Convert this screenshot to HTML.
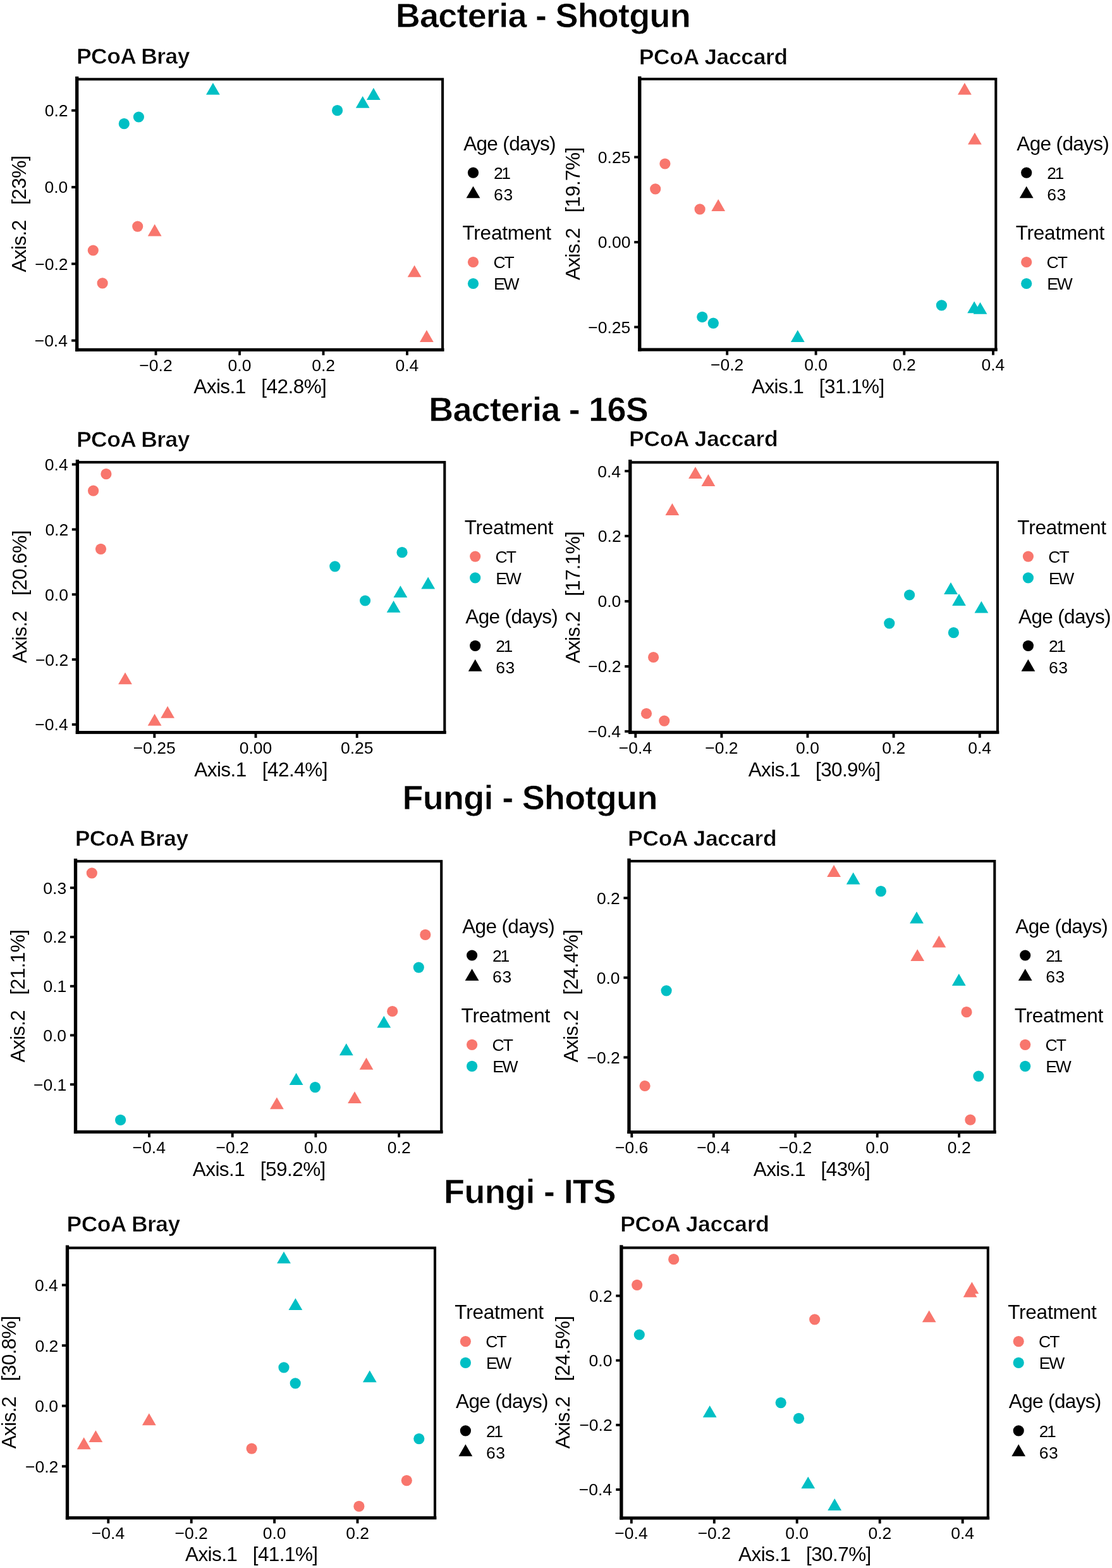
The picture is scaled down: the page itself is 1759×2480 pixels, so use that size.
<!DOCTYPE html>
<html><head><meta charset="utf-8"><title>PCoA</title>
<style>
html,body{margin:0;padding:0;background:#fff;}
body{width:1759px;height:2480px;overflow:hidden;}
svg{display:block;}
text{font-family:'Liberation Sans', sans-serif;fill:#000;white-space:pre;}
</style></head><body>
<svg width="1759" height="2480" viewBox="0 0 1759 2480" xml:space="preserve">
<rect x="0" y="0" width="1759" height="2480" fill="#fff"/>
<line x1="246.5" y1="553.2" x2="246.5" y2="561.8" stroke="#000" stroke-width="3.9"/>
<text x="220.33" y="586.60" font-size="26.5">−0.2</text>
<line x1="379.0" y1="553.2" x2="379.0" y2="561.8" stroke="#000" stroke-width="3.9"/>
<text x="360.58" y="586.60" font-size="26.5">0.0</text>
<line x1="511.5" y1="553.2" x2="511.5" y2="561.8" stroke="#000" stroke-width="3.9"/>
<text x="493.21" y="586.60" font-size="26.5">0.2</text>
<line x1="644.0" y1="553.2" x2="644.0" y2="561.8" stroke="#000" stroke-width="3.9"/>
<text x="625.45" y="586.60" font-size="26.5">0.4</text>
<line x1="113.1" y1="174.7" x2="121.7" y2="174.7" stroke="#000" stroke-width="3.9"/>
<text x="70.69" y="184.10" font-size="26.5">0.2</text>
<line x1="113.1" y1="296.0" x2="121.7" y2="296.0" stroke="#000" stroke-width="3.9"/>
<text x="70.42" y="305.40" font-size="26.5">0.0</text>
<line x1="113.1" y1="417.3" x2="121.7" y2="417.3" stroke="#000" stroke-width="3.9"/>
<text x="55.19" y="426.70" font-size="26.5">−0.2</text>
<line x1="113.1" y1="538.6" x2="121.7" y2="538.6" stroke="#000" stroke-width="3.9"/>
<text x="54.66" y="548.00" font-size="26.5">−0.4</text>
<rect x="121.7" y="125.3" width="578.4" height="427.9" fill="none" stroke="#000" stroke-width="4.1"/>
<line x1="121.7" y1="121.1" x2="121.7" y2="555.8" stroke="#000" stroke-width="5.3"/>
<line x1="119.1" y1="553.2" x2="702.5" y2="553.2" stroke="#000" stroke-width="4.9"/>
<polygon points="336.9,130.9 347.8,149.8 326.0,149.8" fill="#00BFC4"/>
<circle cx="196.3" cy="195.7" r="8.6" fill="#00BFC4"/>
<circle cx="219.4" cy="185.0" r="8.6" fill="#00BFC4"/>
<circle cx="533.6" cy="174.7" r="8.6" fill="#00BFC4"/>
<polygon points="573.7,151.9 584.6,170.8 562.8,170.8" fill="#00BFC4"/>
<polygon points="590.9,139.0 601.8,157.9 580.0,157.9" fill="#00BFC4"/>
<circle cx="217.7" cy="358.1" r="8.6" fill="#F8766D"/>
<polygon points="244.7,354.6 255.6,373.5 233.8,373.5" fill="#F8766D"/>
<circle cx="147.3" cy="396.0" r="8.6" fill="#F8766D"/>
<circle cx="162.1" cy="447.9" r="8.6" fill="#F8766D"/>
<polygon points="655.6,419.4 666.5,438.3 644.7,438.3" fill="#F8766D"/>
<polygon points="674.9,522.0 685.8,540.9 664.0,540.9" fill="#F8766D"/>
<text x="120.99" y="101.30" font-size="35.5" font-weight="bold" stroke="#fff" stroke-width="0.6" textLength="179.54" lengthAdjust="spacing">PCoA Bray</text>
<text x="306.24" y="622.20" font-size="31.5" textLength="210.65" lengthAdjust="spacing">Axis.1   [42.8%]</text>
<text x="0" y="0" font-size="31.5" textLength="184.88" lengthAdjust="spacing" transform="translate(41.00,430.56) rotate(-90)">Axis.2   [23%]</text>
<text x="733.14" y="237.70" font-size="31.5" textLength="146.47" lengthAdjust="spacing">Age (days)</text>
<circle cx="748.5" cy="273.2" r="8.6" fill="#000"/>
<polygon points="748.5,294.4 759.4,313.3 737.6,313.3" fill="#000"/>
<text x="780.98" y="282.80" font-size="26.5" textLength="27.11" lengthAdjust="spacing">21</text>
<text x="780.98" y="316.60" font-size="26.5" textLength="30.18" lengthAdjust="spacing">63</text>
<text x="731.47" y="378.90" font-size="31.5" textLength="140.65" lengthAdjust="spacing">Treatment</text>
<circle cx="748.5" cy="414.5" r="8.6" fill="#F8766D"/>
<circle cx="748.5" cy="448.5" r="8.6" fill="#00BFC4"/>
<text x="780.38" y="424.10" font-size="26.5" textLength="33.34" lengthAdjust="spacing">CT</text>
<text x="781.08" y="458.10" font-size="26.5" textLength="40.38" lengthAdjust="spacing">EW</text>
<line x1="1150.2" y1="553.0" x2="1150.2" y2="561.6" stroke="#000" stroke-width="3.9"/>
<text x="1124.03" y="586.40" font-size="26.5">−0.2</text>
<line x1="1290.6" y1="553.0" x2="1290.6" y2="561.6" stroke="#000" stroke-width="3.9"/>
<text x="1272.18" y="586.40" font-size="26.5">0.0</text>
<line x1="1430.3" y1="553.0" x2="1430.3" y2="561.6" stroke="#000" stroke-width="3.9"/>
<text x="1412.02" y="586.40" font-size="26.5">0.2</text>
<line x1="1571.0" y1="553.0" x2="1571.0" y2="561.6" stroke="#000" stroke-width="3.9"/>
<text x="1552.45" y="586.40" font-size="26.5">0.4</text>
<line x1="1003.2" y1="248.5" x2="1011.8" y2="248.5" stroke="#000" stroke-width="3.9"/>
<text x="945.82" y="257.90" font-size="26.5">0.25</text>
<line x1="1003.2" y1="383.0" x2="1011.8" y2="383.0" stroke="#000" stroke-width="3.9"/>
<text x="945.82" y="392.40" font-size="26.5">0.00</text>
<line x1="1003.2" y1="517.3" x2="1011.8" y2="517.3" stroke="#000" stroke-width="3.9"/>
<text x="930.31" y="526.70" font-size="26.5">−0.25</text>
<rect x="1011.8" y="125.0" width="563.5" height="428.0" fill="none" stroke="#000" stroke-width="4.1"/>
<line x1="1011.8" y1="120.8" x2="1011.8" y2="555.6" stroke="#000" stroke-width="5.3"/>
<line x1="1009.2" y1="553.0" x2="1577.7" y2="553.0" stroke="#000" stroke-width="4.9"/>
<circle cx="1051.9" cy="259.0" r="8.6" fill="#F8766D"/>
<circle cx="1036.7" cy="298.9" r="8.6" fill="#F8766D"/>
<circle cx="1107.1" cy="330.9" r="8.6" fill="#F8766D"/>
<polygon points="1136.2,315.0 1147.1,333.9 1125.3,333.9" fill="#F8766D"/>
<polygon points="1525.9,130.9 1536.8,149.8 1515.0,149.8" fill="#F8766D"/>
<polygon points="1541.9,209.7 1552.8,228.6 1531.0,228.6" fill="#F8766D"/>
<circle cx="1110.8" cy="501.3" r="8.6" fill="#00BFC4"/>
<circle cx="1128.3" cy="511.2" r="8.6" fill="#00BFC4"/>
<circle cx="1489.4" cy="482.9" r="8.6" fill="#00BFC4"/>
<polygon points="1261.8,522.0 1272.7,540.9 1250.9,540.9" fill="#00BFC4"/>
<polygon points="1541.1,476.4 1552.0,495.3 1530.2,495.3" fill="#00BFC4"/>
<polygon points="1550.5,477.9 1561.4,496.8 1539.6,496.8" fill="#00BFC4"/>
<text x="1010.69" y="101.60" font-size="35.5" font-weight="bold" stroke="#fff" stroke-width="0.6" textLength="235.57" lengthAdjust="spacing">PCoA Jaccard</text>
<text x="1188.94" y="622.00" font-size="31.5" textLength="210.35" lengthAdjust="spacing">Axis.1   [31.1%]</text>
<text x="0" y="0" font-size="31.5" textLength="210.33" lengthAdjust="spacing" transform="translate(916.50,443.10) rotate(-90)">Axis.2   [19.7%]</text>
<text x="1608.34" y="237.70" font-size="31.5" textLength="146.47" lengthAdjust="spacing">Age (days)</text>
<circle cx="1623.7" cy="273.2" r="8.6" fill="#000"/>
<polygon points="1623.7,294.4 1634.6,313.3 1612.8,313.3" fill="#000"/>
<text x="1656.17" y="282.80" font-size="26.5" textLength="27.11" lengthAdjust="spacing">21</text>
<text x="1656.17" y="316.60" font-size="26.5" textLength="30.18" lengthAdjust="spacing">63</text>
<text x="1606.67" y="378.90" font-size="31.5" textLength="140.65" lengthAdjust="spacing">Treatment</text>
<circle cx="1623.7" cy="414.5" r="8.6" fill="#F8766D"/>
<circle cx="1623.7" cy="448.5" r="8.6" fill="#00BFC4"/>
<text x="1655.58" y="424.10" font-size="26.5" textLength="33.34" lengthAdjust="spacing">CT</text>
<text x="1656.28" y="458.10" font-size="26.5" textLength="40.38" lengthAdjust="spacing">EW</text>
<line x1="244.3" y1="1158.4" x2="244.3" y2="1167.0" stroke="#000" stroke-width="3.9"/>
<text x="210.65" y="1191.80" font-size="26.5">−0.25</text>
<line x1="404.5" y1="1158.4" x2="404.5" y2="1167.0" stroke="#000" stroke-width="3.9"/>
<text x="378.73" y="1191.80" font-size="26.5">0.00</text>
<line x1="564.7" y1="1158.4" x2="564.7" y2="1167.0" stroke="#000" stroke-width="3.9"/>
<text x="538.93" y="1191.80" font-size="26.5">0.25</text>
<line x1="113.8" y1="734.5" x2="122.4" y2="734.5" stroke="#000" stroke-width="3.9"/>
<text x="70.86" y="743.90" font-size="26.5">0.4</text>
<line x1="113.8" y1="837.4" x2="122.4" y2="837.4" stroke="#000" stroke-width="3.9"/>
<text x="71.39" y="846.80" font-size="26.5">0.2</text>
<line x1="113.8" y1="940.2" x2="122.4" y2="940.2" stroke="#000" stroke-width="3.9"/>
<text x="71.12" y="949.60" font-size="26.5">0.0</text>
<line x1="113.8" y1="1043.1" x2="122.4" y2="1043.1" stroke="#000" stroke-width="3.9"/>
<text x="55.89" y="1052.50" font-size="26.5">−0.2</text>
<line x1="113.8" y1="1145.9" x2="122.4" y2="1145.9" stroke="#000" stroke-width="3.9"/>
<text x="55.36" y="1155.30" font-size="26.5">−0.4</text>
<rect x="122.4" y="731.1" width="580.9" height="427.3" fill="none" stroke="#000" stroke-width="4.1"/>
<line x1="122.4" y1="726.9" x2="122.4" y2="1161.0" stroke="#000" stroke-width="5.3"/>
<line x1="119.8" y1="1158.4" x2="705.7" y2="1158.4" stroke="#000" stroke-width="4.9"/>
<circle cx="167.9" cy="749.7" r="8.6" fill="#F8766D"/>
<circle cx="147.6" cy="776.2" r="8.6" fill="#F8766D"/>
<circle cx="159.5" cy="868.3" r="8.6" fill="#F8766D"/>
<polygon points="198.0,1063.4 208.9,1082.3 187.1,1082.3" fill="#F8766D"/>
<polygon points="265.1,1116.8 276.0,1135.7 254.2,1135.7" fill="#F8766D"/>
<polygon points="244.6,1128.9 255.5,1147.8 233.7,1147.8" fill="#F8766D"/>
<circle cx="529.8" cy="895.8" r="8.6" fill="#00BFC4"/>
<circle cx="636.0" cy="873.7" r="8.6" fill="#00BFC4"/>
<circle cx="577.6" cy="950.0" r="8.6" fill="#00BFC4"/>
<polygon points="677.2,912.6 688.1,931.5 666.3,931.5" fill="#00BFC4"/>
<polygon points="633.4,926.2 644.3,945.1 622.5,945.1" fill="#00BFC4"/>
<polygon points="622.6,949.9 633.5,968.8 611.7,968.8" fill="#00BFC4"/>
<text x="120.99" y="707.00" font-size="35.5" font-weight="bold" stroke="#fff" stroke-width="0.6" textLength="179.54" lengthAdjust="spacing">PCoA Bray</text>
<text x="307.14" y="1227.80" font-size="31.5" textLength="211.35" lengthAdjust="spacing">Axis.1   [42.4%]</text>
<text x="0" y="0" font-size="31.5" textLength="210.33" lengthAdjust="spacing" transform="translate(41.80,1048.85) rotate(-90)">Axis.2   [20.6%]</text>
<text x="734.67" y="844.60" font-size="31.5" textLength="140.65" lengthAdjust="spacing">Treatment</text>
<circle cx="751.7" cy="880.1" r="8.6" fill="#F8766D"/>
<circle cx="751.7" cy="913.9" r="8.6" fill="#00BFC4"/>
<text x="783.57" y="889.70" font-size="26.5" textLength="33.34" lengthAdjust="spacing">CT</text>
<text x="784.28" y="923.50" font-size="26.5" textLength="40.38" lengthAdjust="spacing">EW</text>
<text x="736.34" y="985.80" font-size="31.5" textLength="146.47" lengthAdjust="spacing">Age (days)</text>
<circle cx="751.7" cy="1021.4" r="8.6" fill="#000"/>
<polygon points="751.7,1042.8 762.6,1061.7 740.8,1061.7" fill="#000"/>
<text x="784.17" y="1031.00" font-size="26.5" textLength="27.11" lengthAdjust="spacing">21</text>
<text x="784.17" y="1065.00" font-size="26.5" textLength="30.18" lengthAdjust="spacing">63</text>
<line x1="1005.3" y1="1158.2" x2="1005.3" y2="1166.8" stroke="#000" stroke-width="3.9"/>
<text x="978.87" y="1191.60" font-size="26.5">−0.4</text>
<line x1="1141.4" y1="1158.2" x2="1141.4" y2="1166.8" stroke="#000" stroke-width="3.9"/>
<text x="1115.23" y="1191.60" font-size="26.5">−0.2</text>
<line x1="1277.5" y1="1158.2" x2="1277.5" y2="1166.8" stroke="#000" stroke-width="3.9"/>
<text x="1259.08" y="1191.60" font-size="26.5">0.0</text>
<line x1="1413.6" y1="1158.2" x2="1413.6" y2="1166.8" stroke="#000" stroke-width="3.9"/>
<text x="1395.32" y="1191.60" font-size="26.5">0.2</text>
<line x1="1549.8" y1="1158.2" x2="1549.8" y2="1166.8" stroke="#000" stroke-width="3.9"/>
<text x="1531.25" y="1191.60" font-size="26.5">0.4</text>
<line x1="988.2" y1="745.1" x2="996.8" y2="745.1" stroke="#000" stroke-width="3.9"/>
<text x="945.26" y="754.50" font-size="26.5">0.4</text>
<line x1="988.2" y1="847.8" x2="996.8" y2="847.8" stroke="#000" stroke-width="3.9"/>
<text x="945.79" y="857.20" font-size="26.5">0.2</text>
<line x1="988.2" y1="951.0" x2="996.8" y2="951.0" stroke="#000" stroke-width="3.9"/>
<text x="945.52" y="960.40" font-size="26.5">0.0</text>
<line x1="988.2" y1="1054.0" x2="996.8" y2="1054.0" stroke="#000" stroke-width="3.9"/>
<text x="930.29" y="1063.40" font-size="26.5">−0.2</text>
<line x1="988.2" y1="1156.8" x2="996.8" y2="1156.8" stroke="#000" stroke-width="3.9"/>
<text x="929.76" y="1166.20" font-size="26.5">−0.4</text>
<rect x="996.8" y="731.3" width="581.2" height="426.9" fill="none" stroke="#000" stroke-width="4.1"/>
<line x1="996.8" y1="727.1" x2="996.8" y2="1160.8" stroke="#000" stroke-width="5.3"/>
<line x1="994.2" y1="1158.2" x2="1580.4" y2="1158.2" stroke="#000" stroke-width="4.9"/>
<polygon points="1100.0,738.2 1110.9,757.1 1089.1,757.1" fill="#F8766D"/>
<polygon points="1120.4,750.0 1131.3,768.9 1109.5,768.9" fill="#F8766D"/>
<polygon points="1063.4,796.0 1074.3,814.9 1052.5,814.9" fill="#F8766D"/>
<circle cx="1033.6" cy="1039.5" r="8.6" fill="#F8766D"/>
<circle cx="1022.5" cy="1128.5" r="8.6" fill="#F8766D"/>
<circle cx="1050.8" cy="1140.1" r="8.6" fill="#F8766D"/>
<circle cx="1438.6" cy="941.0" r="8.6" fill="#00BFC4"/>
<circle cx="1406.8" cy="985.8" r="8.6" fill="#00BFC4"/>
<circle cx="1508.4" cy="1000.7" r="8.6" fill="#00BFC4"/>
<polygon points="1504.0,921.0 1514.9,939.9 1493.1,939.9" fill="#00BFC4"/>
<polygon points="1517.0,939.0 1527.9,957.9 1506.1,957.9" fill="#00BFC4"/>
<polygon points="1552.4,950.7 1563.3,969.6 1541.5,969.6" fill="#00BFC4"/>
<text x="995.09" y="706.20" font-size="35.5" font-weight="bold" stroke="#fff" stroke-width="0.6" textLength="235.57" lengthAdjust="spacing">PCoA Jaccard</text>
<text x="1183.74" y="1227.50" font-size="31.5" textLength="209.35" lengthAdjust="spacing">Axis.1   [30.9%]</text>
<text x="0" y="0" font-size="31.5" textLength="208.85" lengthAdjust="spacing" transform="translate(916.70,1049.06) rotate(-90)">Axis.2   [17.1%]</text>
<text x="1609.37" y="844.60" font-size="31.5" textLength="140.65" lengthAdjust="spacing">Treatment</text>
<circle cx="1626.4" cy="880.1" r="8.6" fill="#F8766D"/>
<circle cx="1626.4" cy="913.9" r="8.6" fill="#00BFC4"/>
<text x="1658.28" y="889.70" font-size="26.5" textLength="33.34" lengthAdjust="spacing">CT</text>
<text x="1658.98" y="923.50" font-size="26.5" textLength="40.38" lengthAdjust="spacing">EW</text>
<text x="1611.04" y="985.80" font-size="31.5" textLength="146.47" lengthAdjust="spacing">Age (days)</text>
<circle cx="1626.4" cy="1021.4" r="8.6" fill="#000"/>
<polygon points="1626.4,1042.8 1637.3,1061.7 1615.5,1061.7" fill="#000"/>
<text x="1658.88" y="1031.00" font-size="26.5" textLength="27.11" lengthAdjust="spacing">21</text>
<text x="1658.88" y="1065.00" font-size="26.5" textLength="30.18" lengthAdjust="spacing">63</text>
<line x1="236.0" y1="1790.2" x2="236.0" y2="1798.8" stroke="#000" stroke-width="3.9"/>
<text x="209.57" y="1823.60" font-size="26.5">−0.4</text>
<line x1="367.7" y1="1790.2" x2="367.7" y2="1798.8" stroke="#000" stroke-width="3.9"/>
<text x="341.53" y="1823.60" font-size="26.5">−0.2</text>
<line x1="499.4" y1="1790.2" x2="499.4" y2="1798.8" stroke="#000" stroke-width="3.9"/>
<text x="480.98" y="1823.60" font-size="26.5">0.0</text>
<line x1="631.1" y1="1790.2" x2="631.1" y2="1798.8" stroke="#000" stroke-width="3.9"/>
<text x="612.82" y="1823.60" font-size="26.5">0.2</text>
<line x1="110.9" y1="1404.2" x2="119.5" y2="1404.2" stroke="#000" stroke-width="3.9"/>
<text x="68.36" y="1413.60" font-size="26.5">0.3</text>
<line x1="110.9" y1="1482.0" x2="119.5" y2="1482.0" stroke="#000" stroke-width="3.9"/>
<text x="68.49" y="1491.40" font-size="26.5">0.2</text>
<line x1="110.9" y1="1559.8" x2="119.5" y2="1559.8" stroke="#000" stroke-width="3.9"/>
<text x="68.49" y="1569.20" font-size="26.5">0.1</text>
<line x1="110.9" y1="1637.4" x2="119.5" y2="1637.4" stroke="#000" stroke-width="3.9"/>
<text x="68.22" y="1646.80" font-size="26.5">0.0</text>
<line x1="110.9" y1="1715.2" x2="119.5" y2="1715.2" stroke="#000" stroke-width="3.9"/>
<text x="52.99" y="1724.60" font-size="26.5">−0.1</text>
<rect x="119.5" y="1362.2" width="578.7" height="428.0" fill="none" stroke="#000" stroke-width="4.1"/>
<line x1="119.5" y1="1358.0" x2="119.5" y2="1792.8" stroke="#000" stroke-width="5.3"/>
<line x1="116.9" y1="1790.2" x2="700.6" y2="1790.2" stroke="#000" stroke-width="4.9"/>
<circle cx="145.3" cy="1380.9" r="8.6" fill="#F8766D"/>
<circle cx="190.6" cy="1771.4" r="8.6" fill="#00BFC4"/>
<circle cx="672.8" cy="1478.4" r="8.6" fill="#F8766D"/>
<circle cx="662.3" cy="1530.1" r="8.6" fill="#00BFC4"/>
<circle cx="620.7" cy="1599.5" r="8.6" fill="#F8766D"/>
<polygon points="607.3,1606.7 618.2,1625.6 596.4,1625.6" fill="#00BFC4"/>
<polygon points="547.8,1650.3 558.7,1669.2 536.9,1669.2" fill="#00BFC4"/>
<polygon points="579.5,1672.8 590.4,1691.7 568.6,1691.7" fill="#F8766D"/>
<polygon points="468.6,1697.1 479.5,1716.0 457.7,1716.0" fill="#00BFC4"/>
<circle cx="498.5" cy="1719.6" r="8.6" fill="#00BFC4"/>
<polygon points="561.0,1726.2 571.9,1745.1 550.1,1745.1" fill="#F8766D"/>
<polygon points="437.9,1735.4 448.8,1754.3 427.0,1754.3" fill="#F8766D"/>
<text x="118.69" y="1338.30" font-size="35.5" font-weight="bold" stroke="#fff" stroke-width="0.6" textLength="179.54" lengthAdjust="spacing">PCoA Bray</text>
<text x="304.74" y="1859.80" font-size="31.5" textLength="210.65" lengthAdjust="spacing">Axis.1   [59.2%]</text>
<text x="0" y="0" font-size="31.5" textLength="210.33" lengthAdjust="spacing" transform="translate(38.80,1680.30) rotate(-90)">Axis.2   [21.1%]</text>
<text x="731.24" y="1475.50" font-size="31.5" textLength="146.47" lengthAdjust="spacing">Age (days)</text>
<circle cx="746.6" cy="1511.0" r="8.6" fill="#000"/>
<polygon points="746.6,1532.2 757.5,1551.1 735.7,1551.1" fill="#000"/>
<text x="779.08" y="1520.60" font-size="26.5" textLength="27.11" lengthAdjust="spacing">21</text>
<text x="779.08" y="1554.40" font-size="26.5" textLength="30.18" lengthAdjust="spacing">63</text>
<text x="729.57" y="1616.70" font-size="31.5" textLength="140.65" lengthAdjust="spacing">Treatment</text>
<circle cx="746.6" cy="1652.3" r="8.6" fill="#F8766D"/>
<circle cx="746.6" cy="1686.3" r="8.6" fill="#00BFC4"/>
<text x="778.48" y="1661.90" font-size="26.5" textLength="33.34" lengthAdjust="spacing">CT</text>
<text x="779.18" y="1695.90" font-size="26.5" textLength="40.38" lengthAdjust="spacing">EW</text>
<line x1="999.3" y1="1790.5" x2="999.3" y2="1799.1" stroke="#000" stroke-width="3.9"/>
<text x="973.06" y="1823.90" font-size="26.5">−0.6</text>
<line x1="1128.8" y1="1790.5" x2="1128.8" y2="1799.1" stroke="#000" stroke-width="3.9"/>
<text x="1102.37" y="1823.90" font-size="26.5">−0.4</text>
<line x1="1258.2" y1="1790.5" x2="1258.2" y2="1799.1" stroke="#000" stroke-width="3.9"/>
<text x="1232.03" y="1823.90" font-size="26.5">−0.2</text>
<line x1="1387.7" y1="1790.5" x2="1387.7" y2="1799.1" stroke="#000" stroke-width="3.9"/>
<text x="1369.28" y="1823.90" font-size="26.5">0.0</text>
<line x1="1517.1" y1="1790.5" x2="1517.1" y2="1799.1" stroke="#000" stroke-width="3.9"/>
<text x="1498.82" y="1823.90" font-size="26.5">0.2</text>
<line x1="986.4" y1="1420.3" x2="995.0" y2="1420.3" stroke="#000" stroke-width="3.9"/>
<text x="943.99" y="1429.70" font-size="26.5">0.2</text>
<line x1="986.4" y1="1546.3" x2="995.0" y2="1546.3" stroke="#000" stroke-width="3.9"/>
<text x="943.73" y="1555.70" font-size="26.5">0.0</text>
<line x1="986.4" y1="1672.4" x2="995.0" y2="1672.4" stroke="#000" stroke-width="3.9"/>
<text x="928.49" y="1681.80" font-size="26.5">−0.2</text>
<rect x="995.0" y="1362.0" width="578.3" height="428.5" fill="none" stroke="#000" stroke-width="4.1"/>
<line x1="995.0" y1="1357.8" x2="995.0" y2="1793.1" stroke="#000" stroke-width="5.3"/>
<line x1="992.4" y1="1790.5" x2="1575.7" y2="1790.5" stroke="#000" stroke-width="4.9"/>
<circle cx="1054.1" cy="1566.8" r="8.6" fill="#00BFC4"/>
<circle cx="1020.1" cy="1717.5" r="8.6" fill="#F8766D"/>
<polygon points="1319.1,1368.1 1330.0,1387.0 1308.2,1387.0" fill="#F8766D"/>
<polygon points="1349.7,1379.8 1360.6,1398.7 1338.8,1398.7" fill="#00BFC4"/>
<circle cx="1393.4" cy="1409.6" r="8.6" fill="#00BFC4"/>
<polygon points="1450.0,1441.7 1460.9,1460.6 1439.1,1460.6" fill="#00BFC4"/>
<polygon points="1485.4,1479.7 1496.3,1498.6 1474.5,1498.6" fill="#F8766D"/>
<polygon points="1451.2,1501.2 1462.1,1520.1 1440.3,1520.1" fill="#F8766D"/>
<polygon points="1516.8,1540.0 1527.7,1558.9 1505.9,1558.9" fill="#00BFC4"/>
<circle cx="1529.0" cy="1600.7" r="8.6" fill="#F8766D"/>
<circle cx="1547.9" cy="1702.1" r="8.6" fill="#00BFC4"/>
<circle cx="1534.9" cy="1771.2" r="8.6" fill="#F8766D"/>
<text x="993.09" y="1338.00" font-size="35.5" font-weight="bold" stroke="#fff" stroke-width="0.6" textLength="235.57" lengthAdjust="spacing">PCoA Jaccard</text>
<text x="1191.72" y="1859.80" font-size="31.5" textLength="185.10" lengthAdjust="spacing">Axis.1   [43%]</text>
<text x="0" y="0" font-size="31.5" textLength="210.33" lengthAdjust="spacing" transform="translate(914.20,1680.35) rotate(-90)">Axis.2   [24.4%]</text>
<text x="1606.34" y="1475.50" font-size="31.5" textLength="146.47" lengthAdjust="spacing">Age (days)</text>
<circle cx="1621.7" cy="1511.0" r="8.6" fill="#000"/>
<polygon points="1621.7,1532.2 1632.6,1551.1 1610.8,1551.1" fill="#000"/>
<text x="1654.17" y="1520.60" font-size="26.5" textLength="27.11" lengthAdjust="spacing">21</text>
<text x="1654.17" y="1554.40" font-size="26.5" textLength="30.18" lengthAdjust="spacing">63</text>
<text x="1604.67" y="1616.70" font-size="31.5" textLength="140.65" lengthAdjust="spacing">Treatment</text>
<circle cx="1621.7" cy="1652.3" r="8.6" fill="#F8766D"/>
<circle cx="1621.7" cy="1686.3" r="8.6" fill="#00BFC4"/>
<text x="1653.58" y="1661.90" font-size="26.5" textLength="33.34" lengthAdjust="spacing">CT</text>
<text x="1654.28" y="1695.90" font-size="26.5" textLength="40.38" lengthAdjust="spacing">EW</text>
<line x1="171.3" y1="2400.8" x2="171.3" y2="2409.4" stroke="#000" stroke-width="3.9"/>
<text x="144.87" y="2434.20" font-size="26.5">−0.4</text>
<line x1="302.7" y1="2400.8" x2="302.7" y2="2409.4" stroke="#000" stroke-width="3.9"/>
<text x="276.53" y="2434.20" font-size="26.5">−0.2</text>
<line x1="434.1" y1="2400.8" x2="434.1" y2="2409.4" stroke="#000" stroke-width="3.9"/>
<text x="415.68" y="2434.20" font-size="26.5">0.0</text>
<line x1="565.5" y1="2400.8" x2="565.5" y2="2409.4" stroke="#000" stroke-width="3.9"/>
<text x="547.22" y="2434.20" font-size="26.5">0.2</text>
<line x1="97.9" y1="2032.5" x2="106.5" y2="2032.5" stroke="#000" stroke-width="3.9"/>
<text x="54.96" y="2041.90" font-size="26.5">0.4</text>
<line x1="97.9" y1="2128.1" x2="106.5" y2="2128.1" stroke="#000" stroke-width="3.9"/>
<text x="55.49" y="2137.50" font-size="26.5">0.2</text>
<line x1="97.9" y1="2223.6" x2="106.5" y2="2223.6" stroke="#000" stroke-width="3.9"/>
<text x="55.22" y="2233.00" font-size="26.5">0.0</text>
<line x1="97.9" y1="2319.2" x2="106.5" y2="2319.2" stroke="#000" stroke-width="3.9"/>
<text x="39.99" y="2328.60" font-size="26.5">−0.2</text>
<rect x="106.5" y="1973.7" width="581.5" height="427.1" fill="none" stroke="#000" stroke-width="4.1"/>
<line x1="106.5" y1="1969.5" x2="106.5" y2="2403.4" stroke="#000" stroke-width="5.3"/>
<line x1="103.9" y1="2400.8" x2="690.4" y2="2400.8" stroke="#000" stroke-width="4.9"/>
<polygon points="235.8,2235.3 246.7,2254.2 224.9,2254.2" fill="#F8766D"/>
<polygon points="151.4,2262.2 162.3,2281.1 140.5,2281.1" fill="#F8766D"/>
<polygon points="132.7,2273.3 143.6,2292.2 121.8,2292.2" fill="#F8766D"/>
<polygon points="449.0,1979.4 459.9,1998.3 438.1,1998.3" fill="#00BFC4"/>
<polygon points="467.4,2053.2 478.3,2072.1 456.5,2072.1" fill="#00BFC4"/>
<polygon points="584.8,2167.4 595.7,2186.3 573.9,2186.3" fill="#00BFC4"/>
<circle cx="449.0" cy="2162.8" r="8.6" fill="#00BFC4"/>
<circle cx="467.2" cy="2187.8" r="8.6" fill="#00BFC4"/>
<circle cx="662.8" cy="2275.6" r="8.6" fill="#00BFC4"/>
<circle cx="398.1" cy="2291.1" r="8.6" fill="#F8766D"/>
<circle cx="643.3" cy="2341.6" r="8.6" fill="#F8766D"/>
<circle cx="567.9" cy="2382.4" r="8.6" fill="#F8766D"/>
<text x="105.59" y="1948.00" font-size="35.5" font-weight="bold" stroke="#fff" stroke-width="0.6" textLength="179.54" lengthAdjust="spacing">PCoA Bray</text>
<text x="293.04" y="2469.20" font-size="31.5" textLength="210.05" lengthAdjust="spacing">Axis.1   [41.1%]</text>
<text x="0" y="0" font-size="31.5" textLength="210.33" lengthAdjust="spacing" transform="translate(25.30,2291.35) rotate(-90)">Axis.2   [30.8%]</text>
<text x="719.37" y="2086.10" font-size="31.5" textLength="140.65" lengthAdjust="spacing">Treatment</text>
<circle cx="736.4" cy="2121.6" r="8.6" fill="#F8766D"/>
<circle cx="736.4" cy="2155.4" r="8.6" fill="#00BFC4"/>
<text x="768.27" y="2131.20" font-size="26.5" textLength="33.34" lengthAdjust="spacing">CT</text>
<text x="768.98" y="2165.00" font-size="26.5" textLength="40.38" lengthAdjust="spacing">EW</text>
<text x="721.04" y="2227.30" font-size="31.5" textLength="146.47" lengthAdjust="spacing">Age (days)</text>
<circle cx="736.4" cy="2262.9" r="8.6" fill="#000"/>
<polygon points="736.4,2284.3 747.3,2303.2 725.5,2303.2" fill="#000"/>
<text x="768.88" y="2272.50" font-size="26.5" textLength="27.11" lengthAdjust="spacing">21</text>
<text x="768.88" y="2306.50" font-size="26.5" textLength="30.18" lengthAdjust="spacing">63</text>
<line x1="998.8" y1="2401.0" x2="998.8" y2="2409.6" stroke="#000" stroke-width="3.9"/>
<text x="972.37" y="2434.40" font-size="26.5">−0.4</text>
<line x1="1129.8" y1="2401.0" x2="1129.8" y2="2409.6" stroke="#000" stroke-width="3.9"/>
<text x="1103.63" y="2434.40" font-size="26.5">−0.2</text>
<line x1="1260.7" y1="2401.0" x2="1260.7" y2="2409.6" stroke="#000" stroke-width="3.9"/>
<text x="1242.28" y="2434.40" font-size="26.5">0.0</text>
<line x1="1391.7" y1="2401.0" x2="1391.7" y2="2409.6" stroke="#000" stroke-width="3.9"/>
<text x="1373.42" y="2434.40" font-size="26.5">0.2</text>
<line x1="1522.7" y1="2401.0" x2="1522.7" y2="2409.6" stroke="#000" stroke-width="3.9"/>
<text x="1504.15" y="2434.40" font-size="26.5">0.4</text>
<line x1="974.3" y1="2049.5" x2="982.9" y2="2049.5" stroke="#000" stroke-width="3.9"/>
<text x="931.89" y="2058.90" font-size="26.5">0.2</text>
<line x1="974.3" y1="2151.7" x2="982.9" y2="2151.7" stroke="#000" stroke-width="3.9"/>
<text x="931.62" y="2161.10" font-size="26.5">0.0</text>
<line x1="974.3" y1="2253.8" x2="982.9" y2="2253.8" stroke="#000" stroke-width="3.9"/>
<text x="916.39" y="2263.20" font-size="26.5">−0.2</text>
<line x1="974.3" y1="2356.0" x2="982.9" y2="2356.0" stroke="#000" stroke-width="3.9"/>
<text x="915.86" y="2365.40" font-size="26.5">−0.4</text>
<rect x="982.9" y="1973.5" width="579.9" height="427.5" fill="none" stroke="#000" stroke-width="4.1"/>
<line x1="982.9" y1="1969.3" x2="982.9" y2="2403.6" stroke="#000" stroke-width="5.3"/>
<line x1="980.3" y1="2401.0" x2="1565.2" y2="2401.0" stroke="#000" stroke-width="4.9"/>
<circle cx="1065.7" cy="1991.7" r="8.6" fill="#F8766D"/>
<circle cx="1007.7" cy="2032.3" r="8.6" fill="#F8766D"/>
<circle cx="1288.7" cy="2086.8" r="8.6" fill="#F8766D"/>
<circle cx="1011.3" cy="2111.0" r="8.6" fill="#00BFC4"/>
<polygon points="1122.7,2222.9 1133.6,2241.8 1111.8,2241.8" fill="#00BFC4"/>
<polygon points="1469.7,2072.4 1480.6,2091.3 1458.8,2091.3" fill="#F8766D"/>
<polygon points="1534.6,2032.9 1545.5,2051.8 1523.7,2051.8" fill="#F8766D"/>
<polygon points="1537.4,2027.4 1548.3,2046.3 1526.5,2046.3" fill="#F8766D"/>
<circle cx="1235.2" cy="2218.6" r="8.6" fill="#00BFC4"/>
<circle cx="1263.5" cy="2243.3" r="8.6" fill="#00BFC4"/>
<polygon points="1278.3,2335.4 1289.2,2354.3 1267.4,2354.3" fill="#00BFC4"/>
<polygon points="1320.2,2370.0 1331.1,2388.9 1309.3,2388.9" fill="#00BFC4"/>
<text x="981.29" y="1948.10" font-size="35.5" font-weight="bold" stroke="#fff" stroke-width="0.6" textLength="235.57" lengthAdjust="spacing">PCoA Jaccard</text>
<text x="1168.06" y="2469.20" font-size="31.5" textLength="210.33" lengthAdjust="spacing">Axis.1   [30.7%]</text>
<text x="0" y="0" font-size="31.5" textLength="210.33" lengthAdjust="spacing" transform="translate(901.00,2291.35) rotate(-90)">Axis.2   [24.5%]</text>
<text x="1594.17" y="2086.10" font-size="31.5" textLength="140.65" lengthAdjust="spacing">Treatment</text>
<circle cx="1611.2" cy="2121.6" r="8.6" fill="#F8766D"/>
<circle cx="1611.2" cy="2155.4" r="8.6" fill="#00BFC4"/>
<text x="1643.08" y="2131.20" font-size="26.5" textLength="33.34" lengthAdjust="spacing">CT</text>
<text x="1643.78" y="2165.00" font-size="26.5" textLength="40.38" lengthAdjust="spacing">EW</text>
<text x="1595.84" y="2227.30" font-size="31.5" textLength="146.47" lengthAdjust="spacing">Age (days)</text>
<circle cx="1611.2" cy="2262.9" r="8.6" fill="#000"/>
<polygon points="1611.2,2284.3 1622.1,2303.2 1600.3,2303.2" fill="#000"/>
<text x="1643.67" y="2272.50" font-size="26.5" textLength="27.11" lengthAdjust="spacing">21</text>
<text x="1643.67" y="2306.50" font-size="26.5" textLength="30.18" lengthAdjust="spacing">63</text>
<text x="625.69" y="43.10" font-size="54" font-weight="bold" stroke="#fff" stroke-width="0.6" textLength="467.05" lengthAdjust="spacing">Bacteria - Shotgun</text>
<text x="678.19" y="666.30" font-size="54" font-weight="bold" stroke="#fff" stroke-width="0.6" textLength="347.70" lengthAdjust="spacing">Bacteria - 16S</text>
<text x="636.49" y="1280.00" font-size="54" font-weight="bold" stroke="#fff" stroke-width="0.6" textLength="403.91" lengthAdjust="spacing">Fungi - Shotgun</text>
<text x="702.09" y="1902.50" font-size="54" font-weight="bold" stroke="#fff" stroke-width="0.6" textLength="272.33" lengthAdjust="spacing">Fungi - ITS</text>
</svg>
</body></html>
